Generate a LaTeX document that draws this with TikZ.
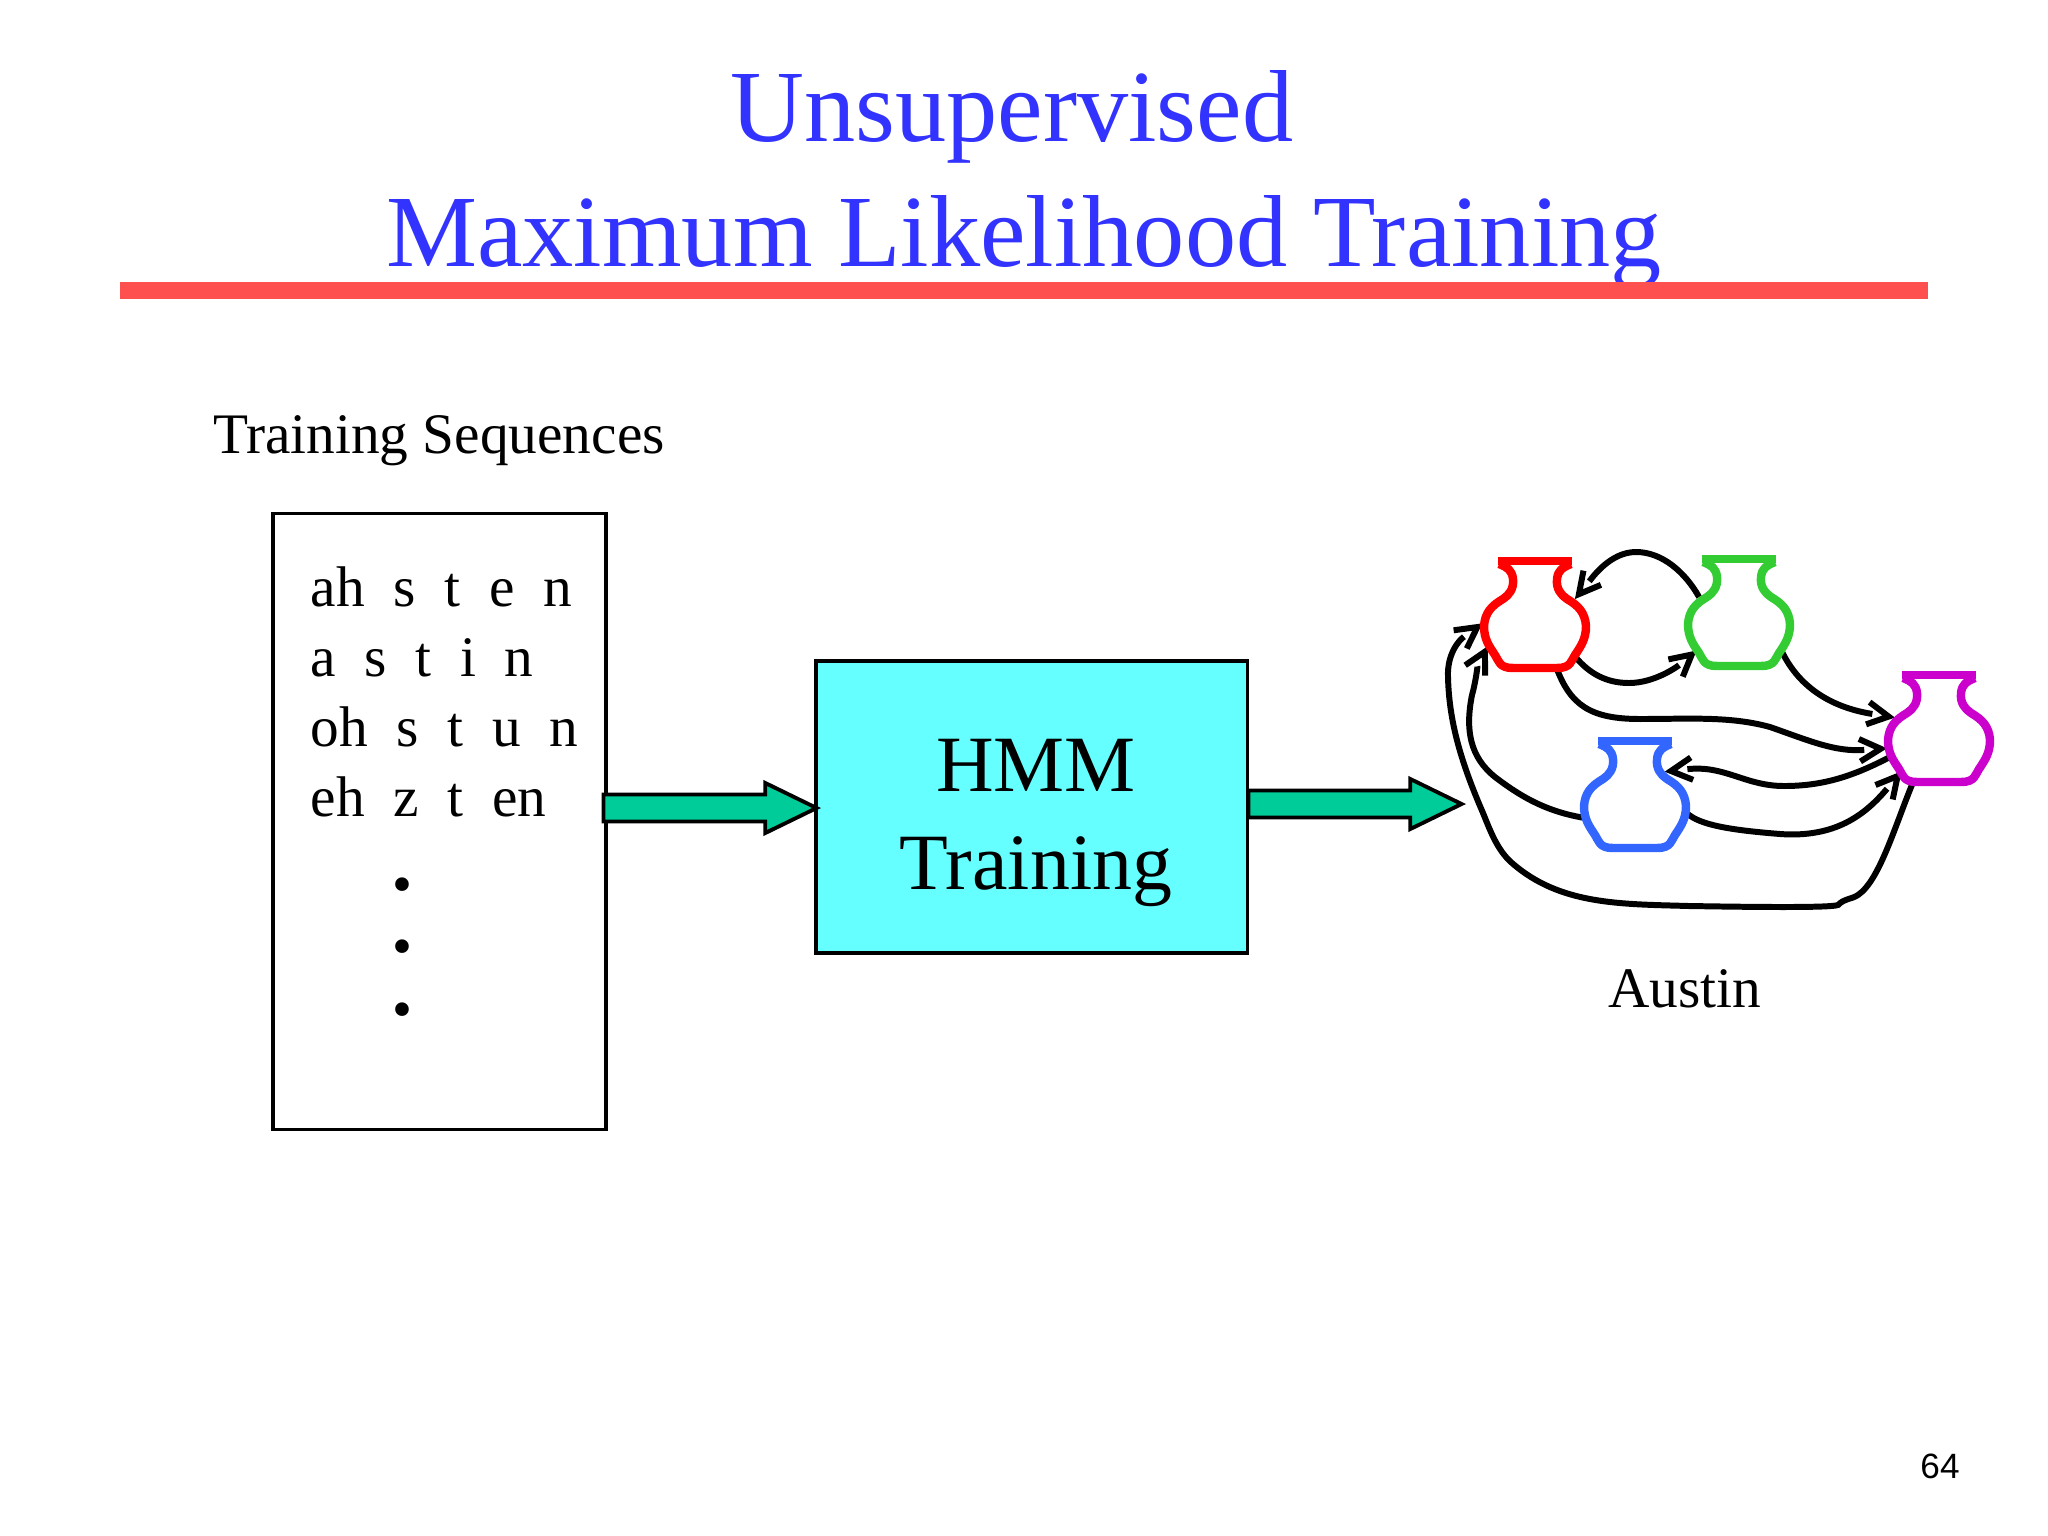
\documentclass[tikz,border=0pt]{standalone}
\usepackage{fontspec}
\setmainfont{Liberation Serif}
\newfontfamily\numfont{Liberation Sans}
\usetikzlibrary{shapes.geometric, shapes.arrows, arrows.meta, positioning}

\definecolor{titleblue}{HTML}{3333FF}
\definecolor{barred}{HTML}{FF5050}
\definecolor{boxcyan}{HTML}{66FFFF}
\definecolor{arrowgreen}{HTML}{00CC99}
\definecolor{vasered}{HTML}{FF0000}
\definecolor{vasegreen}{HTML}{33CC33}
\definecolor{vasepurple}{HTML}{CC00CC}
\definecolor{vaseblue}{HTML}{3366FF}

\tikzset{
  blocktext/.style={anchor=base,inner sep=0pt,font=\fontsize{16.3}{18}\selectfont},
  blockarrow/.style={single arrow,draw=black,fill=arrowgreen,line width=1.1pt,anchor=tip,
    inner xsep=0pt,inner ysep=3.3pt,minimum height=2.13cm,minimum width=0.47cm,
    single arrow head extend=0.115cm,single arrow head indent=0pt,single arrow tip angle=52},
  vasebody/.style={ellipse,inner sep=0pt,minimum width=1.04cm,minimum height=0.84cm},
  vaselink/.style={line width=1.7pt,draw=white,-{Straight Barb[black,length=6pt,width=6.4pt]},
    postaction={draw=black,arrows=-,shorten >=6.5pt}},
  vase/.pic={
    \draw[#1,line width=2.4pt,line join=round]
      (-36,3) .. controls (-28,6) and (-23,9) .. (-22,18)
      .. controls (-21,28) and (-26,34) .. (-32,38)
      .. controls (-44,45) and (-50,52) .. (-51,65)
      .. controls (-51,78) and (-46,85) .. (-40,94)
      .. controls (-36,100) and (-36,107) .. (-22,107)
      -- (22,107) .. controls (36,107) and (36,100) .. (40,94)
      .. controls (46,85) and (51,78) .. (51,65)
      .. controls (50,52) and (44,45) .. (32,38)
      .. controls (26,34) and (21,28) .. (22,18)
      .. controls (23,9) and (28,6) .. (36,3);
    \draw[#1,line width=2.4pt] (-37,0) -- (37,0);
  }
}

\begin{document}
\begin{tikzpicture}[x=0.01cm,y=-0.01cm]
\useasboundingbox (0,0) rectangle (2048,1536);

% Title and rule
\node[anchor=base,inner sep=0pt,text=titleblue,font=\fontsize{29.1}{30}\selectfont] (title1) at (1012,141) {Unsupervised};
\node[anchor=base,inner sep=0pt,text=titleblue,font=\fontsize{29.1}{30}\selectfont] (title2) at (1024,266) {Maximum Likelihood Training};
\fill[barred] (120,282) rectangle (1928,299);

% Sequences
\node[blocktext] (seqtitle) at (439,453) {Training Sequences};
\node[draw,line width=1pt,inner sep=0pt,minimum width=3.33cm,minimum height=6.16cm] (seqbox) at (439.5,821.5) {};
\node[blocktext,anchor=base west] (row1) at (310,606) {ah\ \ s\ \ t\ \ e\ \ n};
\node[blocktext,anchor=base west] (row2) at (310,676) {a\ \ s\ \ t\ \ i\ \ n};
\node[blocktext,anchor=base west] (row3) at (310,746) {oh\ \ s\ \ t\ \ u\ \ n};
\node[blocktext,anchor=base west] (row4) at (310,816) {eh\ \ z\ \ t\ \ en};
\node[inner sep=0pt,font=\fontsize{16.2}{18}\selectfont] (dot1) at (402,891) {•};
\node[inner sep=0pt,font=\fontsize{16.2}{18}\selectfont] (dot2) at (402,953) {•};
\node[inner sep=0pt,font=\fontsize{16.2}{18}\selectfont] (dot3) at (402,1016) {•};

% Training block
\node[draw,fill=boxcyan,line width=1pt,inner sep=0pt,minimum width=4.31cm,minimum height=2.92cm] (hmm) at (1031.7,807) {};
\node[anchor=base,inner sep=0pt,font=\fontsize{22.7}{24}\selectfont] (hmm1) at (1036,791) {HMM};
\node[anchor=base,inner sep=0pt,font=\fontsize{22.7}{24}\selectfont] (hmm2) at (1036,889) {Training};
\node[blockarrow] (inarrow) at (821,808) {};
\node[blockarrow] (outarrow) at (1466,804) {};

% Vase bellies, for the links to end on
\node[vasebody] (redbelly) at (1535,627) {};
\node[vasebody] (greenbelly) at (1739,625) {};
\node[vasebody] (purplebelly) at (1939,741) {};
\node[vasebody] (bluebelly) at (1635,807) {};

% Transitions
\draw[vaselink] (greenbelly.145) .. controls (1685,572) and (1662,552) .. (1636,552)
  .. controls (1610,552) and (1592,578) .. (redbelly.35);
\draw[vaselink] (redbelly.-36) .. controls (1590,675) and (1608,683) .. (1629,683)
  .. controls (1655,683) and (1678,666) .. (greenbelly.-149);
\draw[vaselink] (redbelly.-62) .. controls (1570,705) and (1590,719) .. (1640,719)
  .. controls (1690,719) and (1730,716) .. (1770,727)
  .. controls (1810,741) and (1835,752) .. (purplebelly.-172);
\draw[vaselink] (greenbelly.-31) .. controls (1800,690) and (1835,708) .. (purplebelly.152);
\draw[vaselink] (purplebelly.-162) .. controls (1850,778) and (1820,786) .. (1784,786)
  .. controls (1745,786) and (1725,765) .. (bluebelly.50);
\draw[vaselink] (bluebelly.-7) .. controls (1700,825) and (1730,830) .. (1780,834)
  .. controls (1835,838) and (1865,815) .. (purplebelly.-141);
\draw[vaselink] (bluebelly.-168) .. controls (1550,812) and (1525,800) .. (1495,777)
  .. controls (1470,757) and (1465,730) .. (1472,695)
  .. controls (1475,685) and (1478,665) .. (redbelly.-158);
\draw[vaselink] (purplebelly.-123) .. controls (1895,825) and (1880,880) .. (1858,895)
  .. controls (1850,900) and (1845,898) .. (1838,905)
  .. controls (1830,908) and (1750,907) .. (1689,906)
  .. controls (1620,904) and (1560,905) .. (1512,863)
  .. controls (1497,850) and (1490,830) .. (1483,813)
  .. controls (1460,760) and (1449,720) .. (1448,677)
  .. controls (1447,655) and (1458,641) .. (redbelly.176);

% The four vases
\pic at (1535,561) {vase=vasered};
\pic at (1739,559) {vase=vasegreen};
\pic at (1939,675) {vase=vasepurple};
\pic at (1635,741) {vase=vaseblue};

\node[blocktext] (word) at (1685,1007) {Austin};
\node[anchor=base,inner sep=0pt,font=\numfont\fontsize{10}{11}\selectfont] (pagenum) at (1940,1478) {64};
\end{tikzpicture}
\end{document}
